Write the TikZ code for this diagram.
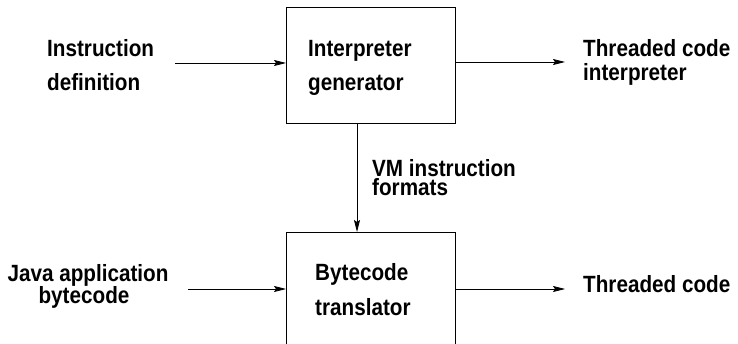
\documentclass[tikz,border=0pt]{standalone}
\usepackage{fontspec}
\setmainfont{Liberation Sans}[FakeStretch=0.88]
\usetikzlibrary{arrows.meta}
\begin{document}
\begin{tikzpicture}[x=1pt,y=-1pt,
  lbl/.style={font=\fontsize{23.5}{23.5}\selectfont\bfseries, inner sep=0pt, anchor=base west},
  lblc/.style={font=\fontsize{23.5}{23.5}\selectfont\bfseries, inner sep=0pt, anchor=base},
  box/.style={draw, line width=0.8pt, inner sep=0pt, anchor=north west, minimum width=169pt, minimum height=116pt},
  arr/.style={-{Stealth[length=12pt,width=6pt,inset=2pt]}, line width=0.8pt}]
\useasboundingbox (0,0) rectangle (738,344);
% boxes
\node[box] (gen) at (286,7) {};
\node[box] (trans) at (286,232) {};
% box texts
\node[lbl] (gen1) at (308,57) {Interpreter};
\node[lbl] (gen2) at (308,91) {generator};
\node[lbl] (tr1) at (315,281) {Bytecode};
\node[lbl] (tr2) at (315,316) {translator};
% outer labels
\node[lbl] (in1) at (47,57) {Instruction};
\node[lbl] (in2) at (47,91) {definition};
\node[lbl] (out1) at (583,57) {Threaded code};
\node[lbl] (out2) at (583,81) {interpreter};
\node[lbl] (vm1) at (372,176.5) {VM instruction};
\node[lbl] (vm2) at (372,196) {formats};
\node[lblc] (ja1) at (88,281.5) {Java application};
\node[lblc] (ja2) at (84,303) {bytecode};
\node[lbl] (out3) at (583,293) {Threaded code};
% connector ends
\coordinate (c1) at (175,63);
\coordinate (c2) at (565,62);
\coordinate (c3) at (188,289);
\coordinate (c4) at (565,289);
\coordinate (vx) at (357,0);
% connectors
\draw[arr] (c1) -- (c1 -| gen.west);
\draw[arr] (gen.east |- c2) -- (c2);
\draw[arr] (vx |- gen.south) -- (vx |- trans.north);
\draw[arr] (c3) -- (c3 -| trans.west);
\draw[arr] (trans.east |- c4) -- (c4);
\end{tikzpicture}
\end{document}
